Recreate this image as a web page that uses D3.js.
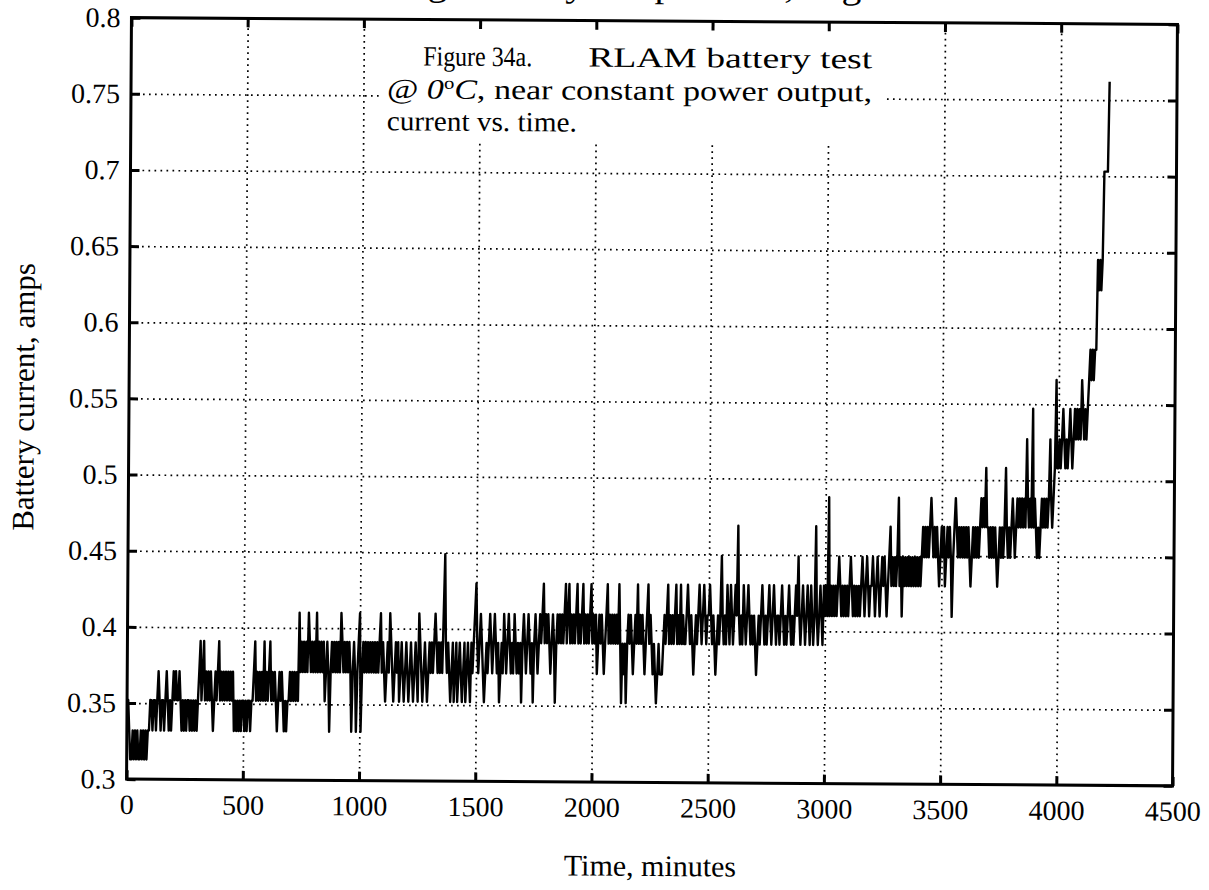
<!DOCTYPE html>
<html>
<head>
<meta charset="utf-8">
<script src="https://cdn.jsdelivr.net/npm/d3@7"></script>
<style>
  html, body { margin: 0; padding: 0; background: #ffffff; }
  svg { display: block; }
</style>
</head>
<body>
<svg id="chart" width="1209" height="890"></svg>
<script>
// ---------------- data ----------------
const timeTickValues = [0, 500, 1000, 1500, 2000, 2500, 3000, 3500, 4000, 4500];
const timeTickLabels = ["0", "500", "1000", "1500", "2000", "2500", "3000", "3500", "4000", "4500"];
const currentTickValues = [0.3, 0.35, 0.4, 0.45, 0.5, 0.55, 0.6, 0.65, 0.7, 0.75, 0.8];
const currentTickLabels = ["0.3", "0.35", "0.4", "0.45", "0.5", "0.55", "0.6", "0.65", "0.7", "0.75", "0.8"];

const sampleIntervalMinutes = 5;   // one reading every 5 minutes, starting at t = 0
const batteryCurrentAmps = [
  .352,.352,.332,.313,.313,.332,.313,.332,.313,.332,.313,.313,.332,.313,.332,.313,.332,.313,.332,.332,
  .352,.352,.332,.352,.352,.332,.352,.371,.352,.332,.352,.352,.332,.352,.371,.352,.332,.352,.332,.352,
  .371,.352,.371,.352,.352,.371,.352,.332,.352,.332,.352,.332,.352,.352,.332,.352,.332,.352,.332,.352,
  .332,.352,.371,.391,.352,.371,.391,.352,.371,.352,.371,.352,.371,.352,.332,.352,.371,.352,.371,.391,
  .352,.371,.352,.371,.352,.371,.352,.371,.352,.371,.352,.371,.332,.352,.332,.352,.332,.352,.332,.352,
  .352,.332,.352,.332,.352,.352,.332,.352,.352,.371,.391,.352,.371,.352,.371,.352,.371,.352,.391,.352,
  .371,.352,.371,.391,.352,.371,.352,.371,.352,.332,.352,.371,.352,.371,.352,.332,.352,.332,.352,.352,
  .371,.352,.371,.352,.371,.352,.371,.352,.410,.371,.391,.371,.391,.371,.391,.371,.410,.391,.371,.391,
  .371,.391,.371,.410,.371,.391,.371,.391,.371,.391,.352,.371,.391,.371,.332,.371,.391,.371,.391,.371,
  .391,.371,.391,.371,.410,.391,.371,.391,.371,.391,.371,.391,.371,.332,.371,.391,.371,.332,.371,.391,
  .410,.332,.371,.391,.371,.391,.371,.391,.371,.391,.371,.391,.371,.391,.371,.391,.371,.391,.410,.371,
  .391,.371,.352,.371,.391,.371,.410,.391,.371,.352,.371,.391,.371,.391,.352,.371,.391,.371,.352,.371,
  .391,.371,.352,.371,.391,.371,.352,.371,.391,.371,.352,.410,.391,.371,.352,.371,.391,.371,.352,.371,
  .391,.371,.391,.371,.391,.410,.391,.371,.391,.371,.391,.371,.410,.449,.391,.371,.391,.371,.352,.371,
  .391,.352,.371,.391,.352,.371,.391,.371,.352,.371,.391,.352,.371,.391,.371,.352,.391,.371,.391,.410,
  .430,.391,.371,.391,.410,.391,.371,.352,.371,.391,.371,.391,.410,.391,.371,.391,.410,.391,.371,.391,
  .352,.371,.391,.371,.410,.391,.371,.391,.410,.391,.371,.391,.371,.410,.391,.371,.391,.371,.391,.352,
  .391,.410,.391,.371,.391,.410,.391,.371,.391,.352,.391,.410,.391,.371,.391,.410,.391,.410,.430,.391,
  .410,.391,.410,.391,.371,.391,.410,.391,.352,.391,.410,.391,.410,.391,.410,.391,.410,.430,.391,.410,
  .430,.391,.410,.391,.410,.391,.410,.430,.391,.410,.391,.410,.430,.391,.410,.391,.410,.391,.410,.430,
  .391,.410,.391,.410,.371,.391,.410,.391,.410,.391,.371,.391,.410,.430,.391,.410,.391,.410,.391,.410,
  .391,.410,.391,.430,.391,.352,.391,.371,.391,.352,.391,.410,.391,.410,.391,.371,.391,.410,.391,.430,
  .391,.410,.391,.410,.391,.371,.391,.410,.430,.391,.410,.391,.371,.391,.371,.352,.371,.391,.371,.371,
  .371,.391,.410,.391,.410,.430,.391,.410,.391,.410,.391,.410,.430,.391,.410,.391,.430,.391,.410,.391,
  .391,.410,.430,.410,.391,.410,.391,.371,.391,.410,.391,.410,.430,.410,.391,.410,.430,.410,.391,.410,
  .410,.430,.410,.391,.410,.391,.371,.391,.410,.391,.410,.449,.410,.391,.410,.391,.430,.410,.391,.430,
  .410,.391,.410,.430,.410,.469,.410,.391,.410,.391,.430,.410,.391,.410,.430,.410,.391,.410,.391,.410,
  .391,.371,.391,.410,.391,.410,.430,.410,.391,.410,.391,.410,.430,.410,.391,.410,.430,.410,.391,.410,
  .410,.391,.410,.430,.410,.391,.410,.391,.410,.430,.410,.391,.410,.391,.410,.430,.410,.449,.410,.391,
  .410,.430,.410,.391,.410,.430,.410,.391,.430,.410,.391,.410,.469,.410,.391,.410,.430,.410,.391,.430,
  .410,.430,.410,.488,.410,.430,.410,.430,.410,.430,.410,.430,.449,.430,.410,.430,.410,.430,.410,.430,
  .410,.430,.449,.430,.410,.430,.410,.430,.410,.430,.410,.430,.449,.430,.410,.430,.449,.430,.410,.430,
  .430,.449,.430,.410,.430,.449,.430,.410,.430,.449,.430,.449,.430,.410,.430,.449,.469,.430,.449,.430,
  .449,.430,.449,.488,.430,.449,.410,.449,.430,.449,.430,.449,.430,.449,.430,.449,.430,.449,.430,.449,
  .430,.449,.430,.449,.469,.449,.469,.449,.469,.449,.469,.488,.469,.449,.469,.449,.469,.449,.430,.449,
  .469,.449,.469,.430,.449,.469,.449,.469,.449,.410,.449,.469,.488,.469,.449,.469,.449,.469,.449,.469,
  .449,.469,.449,.469,.449,.430,.449,.469,.449,.469,.449,.469,.449,.469,.488,.469,.488,.469,.508,.469,
  .469,.449,.469,.449,.469,.449,.469,.449,.430,.449,.469,.449,.469,.449,.469,.508,.469,.449,.469,.449,
  .469,.488,.469,.449,.469,.488,.469,.488,.469,.488,.469,.488,.469,.527,.488,.469,.488,.469,.547,.469,
  .488,.469,.449,.469,.449,.469,.488,.469,.488,.469,.488,.469,.488,.527,.488,.469,.488,.508,.566,.508,
  .508,.527,.508,.527,.547,.527,.508,.527,.508,.527,.547,.527,.508,.527,.547,.527,.547,.527,.547,.527,
  .566,.547,.527,.547,.527,.547,.566,.586,.566,.586,.566,.586,.586,.645,.625,.645,.625,.645,.703,.703,
  .703,.703,.762
];

const xAxisTitle = "Time, minutes";
const yAxisTitle = "Battery current, amps";
const headerFragment = "Average battery temperature, degrees C";
const noteFigure = "Figure 34a.";
const noteTitle = "RLAM battery test";
const noteLine2Pieces = ["@ ", "0", "o", "C", ", near constant power output,"];
const noteLine3 = "current vs. time.";

// ---------------- layout ----------------
const plotLeft = 129, plotRight = 1175, plotTop = 21, plotBottom = 782.5;
const serif = "'Liberation Serif', 'Times New Roman', serif";

const x = d3.scaleLinear().domain([0, 4500]).range([plotLeft, plotRight]);
const y = d3.scaleLinear().domain([0.3, 0.8]).range([plotBottom, plotTop]);

const svg = d3.select("#chart");
svg.append("rect").attr("width", 1209).attr("height", 890).attr("fill", "#fff");

// the scanned page is slightly rotated
const root = svg.append("g").attr("transform", "rotate(0.37 652 402)");

// cut-off header line from the page above (only its descenders show)
root.append("text")
  .attr("x", 331).attr("y", -3)
  .attr("font-family", serif).attr("font-size", 34)
  .attr("textLength", 628).attr("lengthAdjust", "spacingAndGlyphs")
  .text(headerFragment);

// grid
const gridStyle = g => g.selectAll("line")
  .attr("stroke", "#000").attr("stroke-width", 1.7)
  .attr("stroke-dasharray", "1.7 4.3");

root.append("g")
  .attr("transform", `translate(0,${plotBottom})`)
  .call(d3.axisBottom(x).tickValues(timeTickValues.slice(1, -1))
        .tickSize(-(plotBottom - plotTop)).tickFormat(""))
  .call(g => g.select(".domain").remove())
  .call(gridStyle);

root.append("g")
  .attr("transform", `translate(${plotLeft},0)`)
  .call(d3.axisLeft(y).tickValues(currentTickValues.slice(1, -1))
        .tickSize(-(plotRight - plotLeft)).tickFormat(""))
  .call(g => g.select(".domain").remove())
  .call(gridStyle);

// white note box
root.append("rect")
  .attr("x", 381).attr("y", plotTop + 2)
  .attr("width", 502).attr("height", 143 - plotTop - 2)
  .attr("fill", "#fff");

// data line
const line = d3.line()
  .x((d, i) => x(i * sampleIntervalMinutes))
  .y(d => y(d));

root.append("path")
  .datum(batteryCurrentAmps)
  .attr("fill", "none")
  .attr("stroke", "#000")
  .attr("stroke-width", 2.4)
  .attr("stroke-linejoin", "round")
  .attr("d", line);

// axes
const tickLen = 9;
const axisStyle = g => {
  g.select(".domain").remove();
  g.selectAll(".tick line").attr("stroke", "#000").attr("stroke-width", 3);
  g.selectAll(".tick text")
    .attr("font-family", serif).attr("font-size", 28).attr("fill", "#000");
};

root.append("g")
  .attr("transform", `translate(0,${plotBottom})`)
  .call(d3.axisBottom(x).tickValues(timeTickValues)
        .tickSizeInner(-tickLen).tickSizeOuter(0).tickPadding(15)
        .tickFormat((d, i) => timeTickLabels[i]))
  .call(axisStyle);

root.append("g")
  .attr("transform", `translate(0,${plotTop})`)
  .call(d3.axisTop(x).tickValues(timeTickValues)
        .tickSizeInner(-tickLen).tickSizeOuter(0).tickFormat(""))
  .call(axisStyle);

root.append("g")
  .attr("transform", `translate(${plotLeft},0)`)
  .call(d3.axisLeft(y).tickValues(currentTickValues)
        .tickSizeInner(-tickLen).tickSizeOuter(0).tickPadding(11)
        .tickFormat((d, i) => currentTickLabels[i]))
  .call(axisStyle);

root.append("g")
  .attr("transform", `translate(${plotRight},0)`)
  .call(d3.axisRight(y).tickValues(currentTickValues)
        .tickSizeInner(-tickLen).tickSizeOuter(0).tickFormat(""))
  .call(axisStyle);

// frame
root.append("rect")
  .attr("x", plotLeft).attr("y", plotTop)
  .attr("width", plotRight - plotLeft).attr("height", plotBottom - plotTop)
  .attr("fill", "none").attr("stroke", "#000").attr("stroke-width", 3);

// axis titles
root.append("text")
  .attr("x", 653).attr("y", 876)
  .attr("text-anchor", "middle")
  .attr("font-family", serif).attr("font-size", 30)
  .text(xAxisTitle);

root.append("text")
  .attr("transform", "translate(34,401) rotate(-90)")
  .attr("text-anchor", "middle")
  .attr("font-family", serif).attr("font-size", 31)
  .text(yAxisTitle);

// note text
const note = root.append("g").attr("font-family", serif).attr("font-size", 28).attr("fill", "#000");
note.append("text").attr("x", 421).attr("y", 67)
  .attr("textLength", 109).attr("lengthAdjust", "spacingAndGlyphs").text(noteFigure);
note.append("text").attr("x", 586).attr("y", 67)
  .attr("textLength", 284).attr("lengthAdjust", "spacingAndGlyphs").text(noteTitle);
const l2 = note.append("text").attr("x", 385).attr("y", 100)
  .attr("textLength", 485).attr("lengthAdjust", "spacingAndGlyphs");
l2.append("tspan").text(noteLine2Pieces[0]);
l2.append("tspan").attr("font-style", "italic").text(noteLine2Pieces[1]);
l2.append("tspan").attr("font-size", 17).attr("dy", -10).text(noteLine2Pieces[2]);
l2.append("tspan").attr("font-style", "italic").attr("dy", 10).text(noteLine2Pieces[3]);
l2.append("tspan").text(noteLine2Pieces[4]);
note.append("text").attr("x", 385).attr("y", 132)
  .attr("textLength", 190).attr("lengthAdjust", "spacingAndGlyphs").text(noteLine3);
</script>
</body>
</html>
